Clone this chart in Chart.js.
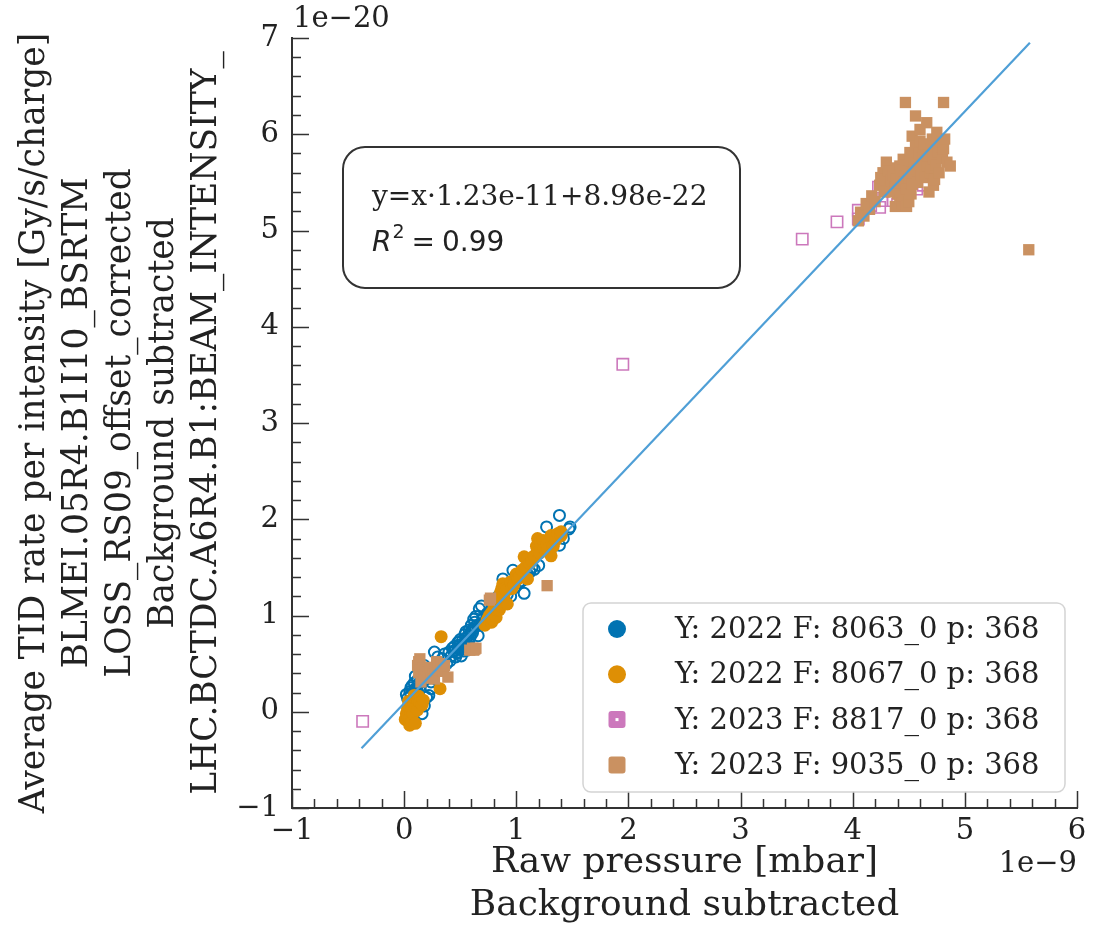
<!DOCTYPE html>
<html>
<head>
<meta charset="utf-8">
<script src="https://cdn.jsdelivr.net/npm/chart.js@4.4.1/dist/chart.umd.min.js"></script>
<style>
html,body{margin:0;padding:0;background:#fff;}
#wrap{width:1094px;height:929px;}
</style>
</head>
<body>
<div id="wrap"><canvas id="c" width="1094" height="929"></canvas></div>
<script>
// ---------------- DATA (x in 1e-9 mbar, y in 1e-20) ----------------
const seriesLabels=["Y: 2022 F: 8063_0 p: 368","Y: 2022 F: 8067_0 p: 368","Y: 2023 F: 8817_0 p: 368","Y: 2023 F: 9035_0 p: 368"];

const blue8063=[[0.02,0.18],[0.03,0.14],[0.04,0.05],[0.05,0.21],[0.06,0.18],[0.06,0.25],[0.07,0.27],[0.08,-0.04],[0.09,0.23],
  [0.09,0.30],[0.10,0.37],[0.11,0.24],[0.12,0.20],[0.12,0.33],[0.13,0.29],[0.14,0.26],[0.15,0.12],[0.16,-0.02],[0.18,0.06],
  [0.18,0.48],[0.20,0.15],[0.22,0.17],[0.24,0.24],[0.24,0.31],[0.26,0.42],[0.27,0.62],[0.30,0.57],[0.34,0.55],[0.36,0.60],
  [0.38,0.50],[0.40,0.62],[0.41,0.53],[0.42,0.58],[0.43,0.66],[0.44,0.63],[0.45,0.68],[0.46,0.57],[0.46,0.64],[0.47,0.61],
  [0.48,0.62],[0.48,0.72],[0.49,0.69],[0.50,0.66],[0.50,0.75],[0.51,0.58],[0.52,0.68],[0.52,0.74],[0.53,0.63],[0.53,0.70],
  [0.54,0.72],[0.54,0.80],[0.55,0.76],[0.55,0.83],[0.56,0.64],[0.56,0.68],[0.57,0.73],[0.57,0.79],[0.58,0.75],[0.58,0.85],
  [0.59,0.78],[0.60,0.84],[0.60,0.90],[0.61,0.82],[0.62,0.86],[0.62,0.96],[0.63,0.88],[0.63,0.93],[0.64,0.99],[0.65,0.90],
  [0.66,0.79],[0.67,1.07],[0.68,0.91],[0.69,1.10],[0.70,0.96],[0.72,0.93],[0.74,1.02],[0.78,1.08],[0.80,1.02],[0.84,1.20],
  [0.88,1.38],[0.90,1.14],[0.92,1.22],[0.95,1.20],[0.97,1.47],[0.985,1.29],[1.00,1.40],[1.02,1.34],[1.05,1.36],[1.07,1.23],
  [1.10,1.43],[1.12,1.45],[1.14,1.50],[1.16,1.48],[1.20,1.52],[1.27,1.92],[1.30,1.66],[1.385,1.73],[1.385,2.04],[1.42,1.80],
  [1.47,1.90],[1.48,1.92]];

const orange8067=[[0.01,-0.08],[0.02,-0.02],[0.03,0.03],[0.03,-0.05],[0.04,0.06],[0.04,0.11],[0.05,-0.07],[0.05,-0.14],
  [0.06,0.10],[0.06,0.00],[0.07,0.02],[0.07,-0.10],[0.08,0.13],[0.08,-0.02],[0.09,0.08],[0.09,0.17],[0.10,0.05],[0.10,-0.12],
  [0.11,0.16],[0.12,0.12],[0.12,0.02],[0.13,0.16],[0.14,0.10],[0.16,0.07],[0.17,0.12],[0.32,0.24],[0.33,0.78],
  [0.72,0.90],[0.74,0.95],[0.75,0.97],[0.76,1.00],[0.78,0.93],[0.78,1.03],[0.79,0.96],[0.80,1.07],[0.80,1.12],[0.81,1.03],
  [0.82,0.98],[0.82,1.06],[0.83,1.10],[0.84,1.14],[0.84,1.08],[0.85,1.06],[0.85,1.19],[0.86,1.24],[0.86,1.10],[0.87,1.16],
  [0.87,1.28],[0.88,1.30],[0.88,1.33],[0.89,1.21],[0.90,1.28],[0.91,1.26],[0.92,1.12],[0.95,1.35],[0.96,1.28],[0.98,1.32],
  [1.00,1.43],[1.015,1.38],[1.03,1.40],[1.05,1.47],[1.07,1.61],[1.08,1.50],[1.10,1.38],[1.10,1.59],[1.12,1.54],[1.14,1.57],
  [1.16,1.62],[1.18,1.72],[1.19,1.66],[1.19,1.80],[1.21,1.65],[1.22,1.76],[1.24,1.78],[1.25,1.69],[1.27,1.74],[1.28,1.69],
  [1.31,1.62],[1.31,1.83],[1.33,1.72],[1.35,1.78],[1.37,1.85],[1.40,1.83],[1.40,1.87]];

const pink8817=[[-0.37,-0.10],[1.95,3.61],[3.55,4.91],[3.86,5.09],[4.05,5.21],[4.05,5.12],[4.16,5.26],[4.23,5.45],
  [4.24,5.24],[4.26,5.31],[4.36,5.31],[4.40,5.27],[4.57,5.43],[4.63,5.47]];

const brown9035=[[0.12,0.48],[0.13,0.41],[0.13,0.52],[0.14,0.48],[0.14,0.55],[0.15,0.31],[0.17,0.45],[0.18,0.38],
  [0.19,0.43],[0.21,0.36],[0.215,0.41],[0.23,0.46],[0.24,0.35],[0.26,0.39],[0.27,0.34],[0.28,0.46],[0.29,0.52],[0.30,0.44],
  [0.32,0.45],[0.33,0.50],[0.35,0.42],[0.36,0.48],[0.39,0.36],[0.585,0.64],[0.61,0.66],[0.62,0.64],[0.63,0.65],[0.64,0.66],
  [0.76,1.16],[0.77,1.18],[1.275,1.31],
  [4.05,5.10],[4.07,5.19],[4.10,5.15],[4.12,5.28],[4.15,5.22],[4.17,5.36],[4.20,5.30],[4.24,5.47],[4.25,5.55],[4.27,5.60],
  [4.28,5.40],[4.29,5.53],[4.30,5.71],[4.32,5.62],[4.33,5.45],[4.34,5.52],[4.35,5.40],[4.36,5.58],[4.38,5.45],[4.38,5.25],
  [4.39,5.53],[4.40,5.65],[4.40,5.38],[4.42,5.33],[4.42,5.67],[4.43,5.58],[4.44,5.28],[4.45,5.74],[4.45,5.36],[4.46,5.50],
  [4.47,6.33],[4.47,5.68],[4.48,5.43],[4.48,5.25],[4.49,5.62],[4.50,5.30],[4.50,5.55],[4.51,5.81],[4.52,5.38],[4.52,5.72],
  [4.53,5.48],[4.53,5.98],[4.54,5.60],[4.55,5.70],[4.56,5.88],[4.56,6.19],[4.57,5.64],[4.58,5.50],[4.59,5.80],[4.60,5.93],
  [4.60,6.05],[4.61,5.58],[4.62,5.75],[4.63,5.81],[4.64,5.90],[4.65,5.55],[4.66,5.67],[4.66,6.12],[4.67,5.78],[4.68,5.40],
  [4.69,5.60],[4.70,5.85],[4.70,5.65],[4.71,5.95],[4.72,5.47],[4.72,5.74],[4.73,5.53],[4.74,5.68],[4.75,6.02],[4.76,5.82],
  [4.77,5.60],[4.78,5.90],[4.79,5.92],[4.80,5.75],[4.81,5.85],[4.81,6.33],[4.82,5.95],[4.84,5.71],[4.87,5.67],[5.57,4.80]];

// fit line endpoints (y = x*1.23e-11 + 8.98e-22)
const fitLine=[[-0.38,-0.38],[5.58,6.95]];
const fitText="y=x\u00b71.23e-11+8.98e-22";
const r2Value="0.99";

const xTitle=["Raw pressure [mbar]","Background subtracted"];
const yTitle=["Average TID rate per intensity [Gy/s/charge]","BLMEI.05R4.B1I10_BSRTM","LOSS_RS09_offset_corrected","Background subtracted","LHC.BCTDC.A6R4.B1:BEAM_INTENSITY_"];
const xOffsetText="1e\u22129", yOffsetText="1e\u221220";

// ---------------- STYLE ----------------
const colors=["#0173b2","#de8f05","#cc78bc","#ca9161"];
const serif='"DejaVu Serif", serif';
const toPts=a=>a.map(p=>({x:p[0],y:p[1]}));
const fmt=v=>v<0?"\u2212"+Math.abs(v):""+v;

// ---------------- DECOR PLUGIN: inward ticks, box, legend ----------------
const decor={
  id:"decor",
  afterDraw(chart){
    const ctx=chart.ctx, a=chart.chartArea, xs=chart.scales.x, ys=chart.scales.y;
    ctx.save();
    // inward ticks
    ctx.strokeStyle="#333"; ctx.lineWidth=1.5; ctx.beginPath();
    for(let i=0;i<=35;i++){
      const px=Math.round(xs.getPixelForValue(-1+i*0.2))+0.5, L=i%5===0?17:9;
      ctx.moveTo(px,a.bottom); ctx.lineTo(px,a.bottom-L);
    }
    for(let i=0;i<=40;i++){
      const py=Math.round(ys.getPixelForValue(-1+i*0.2))+0.5, L=i%5===0?17:9;
      ctx.moveTo(a.left,py); ctx.lineTo(a.left+L,py);
    }
    ctx.stroke();

    // offset texts
    ctx.fillStyle="#222"; ctx.font="29px "+serif;
    ctx.textAlign="left"; ctx.textBaseline="alphabetic";
    ctx.fillText(yOffsetText,a.left+1,27);
    ctx.textAlign="right";
    ctx.fillText(xOffsetText,a.right,872);

    // fit annotation box
    ctx.beginPath(); ctx.roundRect(343,147,397,141,22);
    ctx.fillStyle="#fff"; ctx.fill();
    ctx.strokeStyle="#333"; ctx.lineWidth=2; ctx.stroke();
    ctx.fillStyle="#222"; ctx.textAlign="left";
    ctx.font="28px "+serif; ctx.fillText(fitText,372,205);
    let x=372;
    ctx.font='italic 28px "DejaVu Sans"'; ctx.fillText("R",x,251); x+=ctx.measureText("R").width+1;
    ctx.font='19px "DejaVu Sans"'; ctx.fillText("2",x,238); x+=ctx.measureText("2").width+7;
    ctx.font='28px "DejaVu Sans"'; ctx.fillText("=",x,251); x+=ctx.measureText("=").width+7;
    ctx.fillText(r2Value,x,251);

    // legend
    ctx.beginPath(); ctx.roundRect(583,603,482,189,8);
    ctx.fillStyle="rgba(255,255,255,0.85)"; ctx.fill();
    ctx.strokeStyle="#d4d4d4"; ctx.lineWidth=1.5; ctx.stroke();
    ctx.font="29px "+serif;
    seriesLabels.forEach((lab,i)=>{
      const cy=629+i*45.3, cx=617;
      ctx.fillStyle=colors[i];
      ctx.beginPath();
      if(i<2){ ctx.arc(cx,cy,9,0,Math.PI*2); ctx.fill(); }
      else { ctx.roundRect(cx-8.5,cy-8.5,17,17,3); ctx.fill();
        if(i===2){ ctx.fillStyle="#fff"; ctx.fillRect(cx-1.5,cy-1.5,3,3); } }
      ctx.fillStyle="#222"; ctx.fillText(lab,675,cy+9);
    });
    ctx.restore();
  }
};

// ---------------- CHART ----------------
new Chart(document.getElementById("c"),{
  type:"scatter",
  data:{datasets:[
    {label:"fit",data:toPts(fitLine),showLine:true,borderColor:"#4f9fd6",borderWidth:2.2,pointRadius:0,order:0},
    {label:seriesLabels[3],data:toPts(brown9035),pointStyle:"rect",pointRadius:8,backgroundColor:colors[3],borderWidth:0,order:1},
    {label:seriesLabels[2],data:toPts(pink8817),pointStyle:"rect",pointRadius:8,backgroundColor:"rgba(0,0,0,0)",borderColor:colors[2],borderWidth:1.6,order:2},
    {label:seriesLabels[1],data:toPts(orange8067),pointStyle:"circle",pointRadius:6.5,backgroundColor:colors[1],borderWidth:0,order:3},
    {label:seriesLabels[0],data:toPts(blue8063),pointStyle:"circle",pointRadius:5.5,backgroundColor:"rgba(0,0,0,0)",borderColor:colors[0],borderWidth:2,order:4}
  ]},
  options:{
    responsive:false,animation:false,devicePixelRatio:1,
    layout:{padding:{top:38,right:17,left:0,bottom:0}},
    plugins:{legend:{display:false},tooltip:{enabled:false}},
    scales:{
      x:{type:"linear",min:-1,max:6,
        afterFit(s){s.height=121;},
        ticks:{stepSize:1,autoSkip:false,maxRotation:0,padding:6,color:"#222",font:{family:serif,size:29},callback:fmt},
        grid:{display:false,drawTicks:false},
        border:{display:true,color:"#333",width:2},
        title:{display:true,text:xTitle,color:"#222",font:{family:serif,size:36,lineHeight:1.2},padding:{top:0,bottom:2}}},
      y:{type:"linear",min:-1,max:7,
        afterFit(s){s.width=292;},
        ticks:{stepSize:1,autoSkip:false,padding:13,color:"#222",font:{family:serif,size:29},callback:fmt},
        grid:{display:false,drawTicks:false},
        border:{display:true,color:"#333",width:2},
        title:{display:true,text:yTitle,color:"#222",font:{family:serif,size:34.5,lineHeight:1.25},padding:{top:13,bottom:0}}}
    }
  },
  plugins:[decor]
});
</script>
</body>
</html>
